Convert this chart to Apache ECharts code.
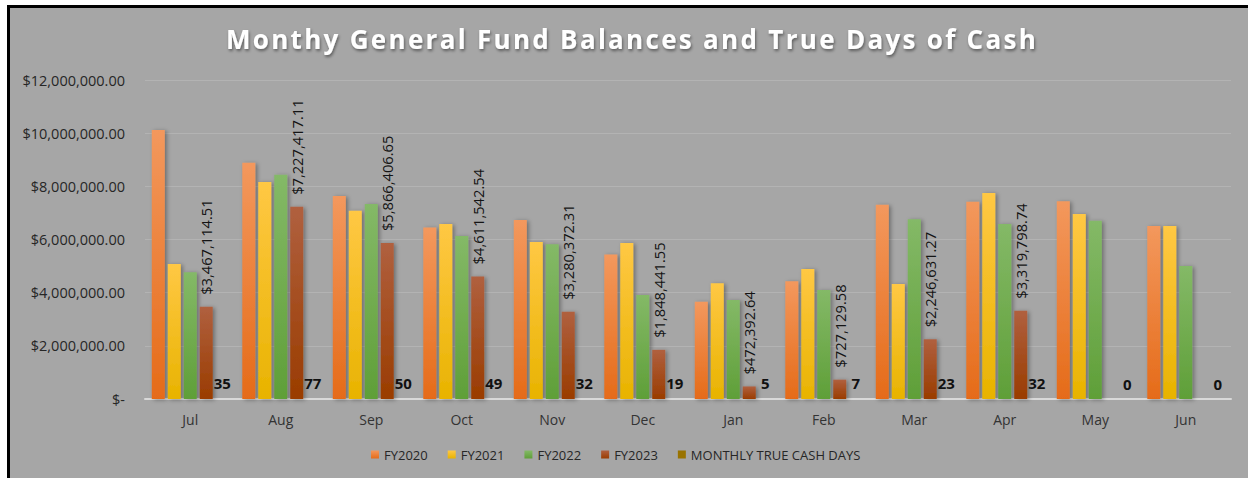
<!DOCTYPE html>
<html>
<head>
<meta charset="utf-8">
<script src="https://cdn.jsdelivr.net/npm/echarts@6/dist/echarts.min.js"></script>
<style>
  html, body { margin: 0; padding: 0; background: #ffffff; }
  #frame { position: absolute; left: 7px; top: 5px; width: 1260px; height: 490px;
           border-left: 3px solid #000; border-top: 3px solid #000; background: #a6a6a6; }
  #chart { position: absolute; left: 0; top: 0; width: 1248px; height: 478px; }
  #chart text[style*="26px"] { letter-spacing: 2.3px; }
</style>
</head>
<body>
<div id="frame"></div>
<div id="chart"></div>
<script>
const months = ["Jul","Aug","Sep","Oct","Nov","Dec","Jan","Feb","Mar","Apr","May","Jun"];
const fy2020 = [10120000, 8890000, 7640000, 6450000, 6730000, 5440000, 3660000, 4430000, 7310000, 7420000, 7440000, 6510000];
const fy2021 = [5080000, 8160000, 7080000, 6580000, 5910000, 5870000, 4350000, 4890000, 4330000, 7750000, 6960000, 6510000];
const fy2022 = [4770000, 8440000, 7340000, 6130000, 5820000, 3910000, 3720000, 4100000, 6760000, 6580000, 6710000, 5000000];
const fy2023 = [3467114.51, 7227417.11, 5866406.65, 4611542.54, 3280372.31, 1848441.55, 472392.64, 727129.58, 2246631.27, 3319798.74, null, null];
const cashDays = [35, 77, 50, 49, 32, 19, 5, 7, 23, 32, 0, 0];
const yTicks = { min: 0, max: 12000000, interval: 2000000 };

function money(v) {
  if (v === 0) return "$-";
  return "$" + Number(v).toLocaleString("en-US", { minimumFractionDigits: 2, maximumFractionDigits: 2 });
}
function grad(top, bottom) {
  return new echarts.graphic.LinearGradient(0, 0, 0, 1, [
    { offset: 0, color: top }, { offset: 1, color: bottom }
  ]);
}
const font = "'Open Sans', 'Noto Sans', sans-serif";
const shadow = { shadowColor: "rgba(0,0,0,0.35)", shadowBlur: 4, shadowOffsetX: 2, shadowOffsetY: 1 };

const chart = echarts.init(document.getElementById("chart"), null, { renderer: "svg" });
chart.setOption({
  backgroundColor: "transparent",
  animation: false,
  textStyle: { fontFamily: font },
  title: {
    text: "Monthy General Fund Balances and True Days of Cash",
    left: 221, top: 21,
    textStyle: {
      color: "#ffffff", fontSize: 26, fontWeight: "bold", fontFamily: font,
      textShadowColor: "rgba(0,0,0,0.45)", textShadowBlur: 3, textShadowOffsetX: 1, textShadowOffsetY: 2
    }
  },
  legend: {
    bottom: 12, left: 366,
    itemWidth: 8, itemHeight: 8, itemGap: 20,
    icon: "rect",
    textStyle: { color: "#262626", fontSize: 13, fontFamily: font },
    data: ["FY2020", "FY2021", "FY2022", "FY2023", "MONTHLY TRUE CASH DAYS"]
  },
  grid: { left: 145, right: 17, top: 80, bottom: 79, containLabel: false },
  xAxis: {
    type: "category",
    data: months,
    axisLine: { lineStyle: { color: "#d9d9d9", width: 2 } },
    axisTick: { show: false },
    axisLabel: { color: "#333333", fontSize: 14, margin: 13, fontFamily: font }
  },
  yAxis: {
    type: "value",
    min: yTicks.min, max: yTicks.max, interval: yTicks.interval,
    axisLine: { show: false },
    axisTick: { show: false },
    splitLine: { lineStyle: { color: "#b3b3b3", width: 1 } },
    axisLabel: { color: "#262626", fontSize: 14.5, margin: 20, fontFamily: font, formatter: money }
  },
  series: [
    { name: "FY2020", type: "bar", data: fy2020, barGap: "23%", barCategoryGap: "15%",
      itemStyle: Object.assign({ color: grad("#f3985d", "#e56b19") }, shadow) },
    { name: "FY2021", type: "bar", data: fy2021,
      itemStyle: Object.assign({ color: grad("#ffc844", "#e8b300") }, shadow) },
    { name: "FY2022", type: "bar", data: fy2022,
      itemStyle: Object.assign({ color: grad("#84b967", "#5f9f38") }, shadow) },
    { name: "FY2023", type: "bar", data: fy2023,
      itemStyle: Object.assign({ color: grad("#b0603f", "#9a3c00") }, shadow),
      label: { show: true, position: "top", rotate: 90, align: "left", verticalAlign: "middle",
               distance: 12, color: "#141414", fontSize: 14.7, fontFamily: font,
               formatter: p => money(p.value) } },
    { name: "MONTHLY TRUE CASH DAYS", type: "bar", data: cashDays,
      itemStyle: { color: "#997300" },
      label: { show: true, position: "top", distance: 8, color: "#111111", fontSize: 15,
               fontWeight: "bold", fontFamily: font } }
  ]
});
</script>
</body>
</html>
